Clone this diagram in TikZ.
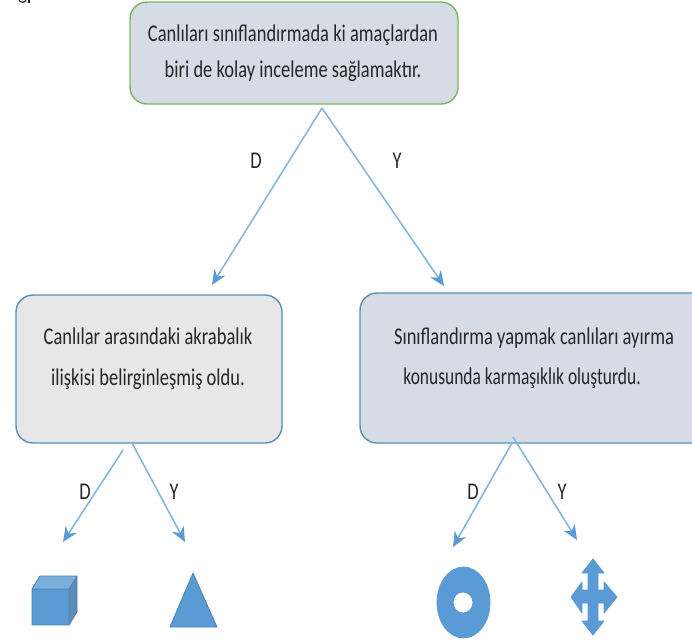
\documentclass[tikz,border=0pt]{standalone}
\usepackage{fontspec}
\usepackage{graphicx}
\setmainfont{Carlito}
\usetikzlibrary{arrows.meta}
\definecolor{boxblue}{HTML}{D6DCE5}
\definecolor{boxgrey}{HTML}{E7E7E7}
\definecolor{edgeblue}{HTML}{5B8DB8}
\definecolor{edgegreen}{HTML}{7DB35A}
\definecolor{linkblue}{HTML}{7FB3E0}
\definecolor{headblue}{HTML}{5B9BD5}
\definecolor{shapeblue}{HTML}{5B9BD5}
\definecolor{shapeedge}{HTML}{4A80AE}
\newcommand{\narrowlines}[3]{\scalebox{0.77}[1]{\fontsize{24}{#1}\selectfont\begin{tabular}{@{}c@{}}#2\\#3\end{tabular}}}
\newcommand{\narrowletter}[1]{\scalebox{0.77}[1]{\fontsize{24}{26}\selectfont #1}}
\tikzset{
  card/.style={draw=edgeblue,line width=1.4pt,fill=boxblue,rounded corners=17pt},
  cardtext/.style={text=black!85,align=center,inner sep=0pt},
  link/.style={draw=linkblue,line width=1.5pt,-{Stealth[length=15pt,width=13pt,color=headblue]}},
  linklabel/.style={text=black!85,inner sep=0pt},
  solidshape/.style={fill=shapeblue,draw=shapeedge,line width=0.8pt,line join=round}
}
\begin{document}
\begin{tikzpicture}[x=1pt,y=-1pt]
\useasboundingbox (0,0) rectangle (692,643);
\fill[white] (0,0) rectangle (692,643);
% clipped remnant at the top edge
\draw[black!85,line width=1.2pt] (19,0) .. controls (20,3) and (25,3) .. (26,0);
\fill[black!85] (28,0) rectangle (30,2.5);
% boxes
\draw[card,draw=edgegreen] (130,2) rectangle (458,104);
\draw[card,fill=boxgrey] (16,295) rectangle (282,443);
\begin{scope}
\clip (340,280) rectangle (692,460);
\draw[card] (360,293) rectangle (720,443);
\end{scope}
% texts
\node[cardtext] (toptext) at (293,52) {\narrowlines{36.5}{Canlıları sınıflandırmada ki amaçlardan}{biri de kolay inceleme sağlamaktır.}};
\node[cardtext] (lefttext) at (148,357) {\narrowlines{41}{Canlılar arasındaki akrabalık}{ilişkisi belirginleşmiş oldu.}};
\node[cardtext] (righttext) at (534,356.5) {\narrowlines{39.5}{Sınıflandırma yapmak canlıları ayırma}{\scalebox{0.945}[1]{konusunda karmaşıklık oluşturdu.}\kern31pt}};
% connector ends
\coordinate (topapex) at (322,108);
\coordinate (topD) at (212,285);
\coordinate (topY) at (444,286);
\coordinate (leftapexD) at (123,450);
\coordinate (leftapexY) at (132,443);
\coordinate (cubeend) at (63,542);
\coordinate (triend) at (185,542);
\coordinate (rightapexD) at (512,443);
\coordinate (rightapexY) at (513,437);
\coordinate (donutend) at (453,547);
\coordinate (crossend) at (577,540);
% cube
\fill[shapeblue] (32,589) rectangle (69,625);
\fill[shapeblue!80!white] (32,589) -- (40,576) -- (77,576) -- (69,589) -- cycle;
\fill[shapeedge!90] (69,589) -- (77,576) -- (77,612) -- (69,625) -- cycle;
\draw[shapeedge,line width=0.8pt,line join=round] (32,589) -- (40,576) -- (77,576) -- (77,612) -- (69,625) -- (32,625) -- cycle (32,589) -- (69,589) -- (77,576) (69,589) -- (69,625);
% triangle
\path[solidshape] (193,573) -- (217,627) -- (170,627) -- cycle;
% donut
\path[solidshape,even odd rule,draw=shapeblue] (463.5,602.5) ellipse [x radius=26.5,y radius=35.5] (463,602.5) ellipse [x radius=10,y radius=10.5];
% four-way arrow
\path[solidshape,draw=shapeblue] (593,559) -- (604,573) -- (598,573) -- (598,590) -- (604,590) -- (604,582) -- (617,597) -- (604,613) -- (604,603) -- (598,603) -- (598,621) -- (604,621) -- (593,635) -- (582,621) -- (588,621) -- (588,603) -- (582,603) -- (582,613) -- (571,597) -- (582,582) -- (582,590) -- (588,590) -- (588,573) -- (582,573) -- cycle;
% connectors
\draw[link] (topapex) -- (topD);
\draw[link] (topapex) -- (topY);
\draw[link] (leftapexD) -- (cubeend);
\draw[link] (leftapexY) -- (triend);
\draw[link] (rightapexD) -- (donutend);
\draw[link] (rightapexY) -- (crossend);
% labels
\node[linklabel] (lD) at (256,161) {\narrowletter{D}};
\node[linklabel] (lY) at (397,161) {\narrowletter{Y}};
\node[linklabel] (l2D) at (85,492) {\narrowletter{D}};
\node[linklabel] (l2Y) at (174,492) {\narrowletter{Y}};
\node[linklabel] (l3D) at (473,492) {\narrowletter{D}};
\node[linklabel] (l3Y) at (562,492) {\narrowletter{Y}};
\end{tikzpicture}
\end{document}
